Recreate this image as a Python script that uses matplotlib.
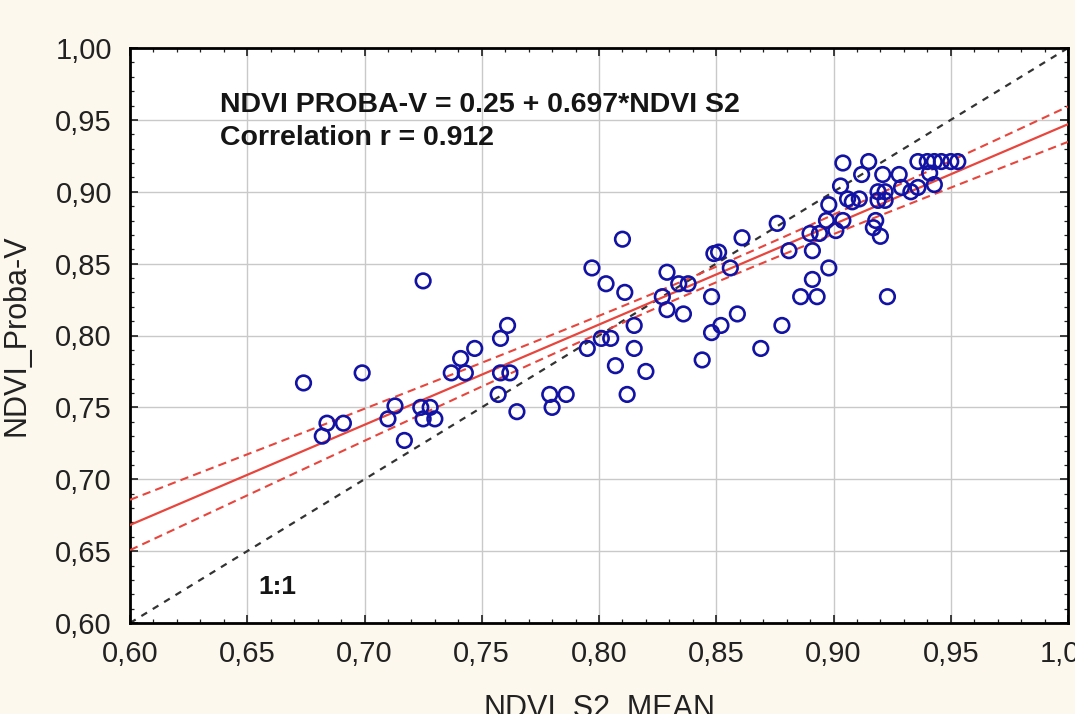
import numpy as np
import matplotlib
matplotlib.use('Agg')
import matplotlib.pyplot as plt
import matplotlib.ticker as mticker

# ----------------------------
# data
# ----------------------------
ndvi_s2 = [
    0.674, 0.682, 0.684, 0.691, 0.699, 0.710, 0.713, 0.717, 0.724, 0.728,
    0.725, 0.730, 0.725, 0.737, 0.743, 0.741, 0.747, 0.757, 0.758, 0.761,
    0.758, 0.762, 0.765, 0.779, 0.780, 0.786,
    0.795, 0.797, 0.801, 0.803, 0.805, 0.807, 0.810, 0.811, 0.812, 0.815,
    0.815, 0.820, 0.827, 0.829, 0.829, 0.834, 0.838, 0.836, 0.844, 0.848,
    0.848, 0.849, 0.851, 0.852, 0.856, 0.859, 0.861, 0.869, 0.876, 0.878,
    0.881, 0.886, 0.891, 0.891, 0.890, 0.894, 0.893, 0.898, 0.897, 0.901,
    0.904, 0.898, 0.903, 0.904, 0.906, 0.908, 0.911, 0.912, 0.915, 0.918,
    0.917, 0.920, 0.919, 0.922, 0.919, 0.922, 0.921, 0.923, 0.928, 0.929,
    0.933, 0.936, 0.936, 0.940, 0.943, 0.946, 0.950, 0.953, 0.941, 0.943,
]
ndvi_probav = [
    0.767, 0.730, 0.739, 0.739, 0.774, 0.742, 0.751, 0.727, 0.750, 0.750,
    0.742, 0.742, 0.838, 0.774, 0.774, 0.784, 0.791, 0.759, 0.798, 0.807,
    0.774, 0.774, 0.747, 0.759, 0.750, 0.759,
    0.791, 0.847, 0.798, 0.836, 0.798, 0.779, 0.867, 0.830, 0.759, 0.807,
    0.791, 0.775, 0.827, 0.844, 0.818, 0.836, 0.836, 0.815, 0.783, 0.827,
    0.802, 0.857, 0.858, 0.807, 0.847, 0.815, 0.868, 0.791, 0.878, 0.807,
    0.859, 0.827, 0.859, 0.839, 0.871, 0.871, 0.827, 0.847, 0.880, 0.873,
    0.880, 0.891, 0.904, 0.920, 0.895, 0.893, 0.895, 0.912, 0.921, 0.880,
    0.875, 0.869, 0.900, 0.900, 0.894, 0.894, 0.912, 0.827, 0.912, 0.903,
    0.900, 0.903, 0.921, 0.921, 0.921, 0.921, 0.921, 0.921, 0.913, 0.905,
]

fit_intercept = 0.25
fit_slope     = 0.697
corr_r        = 0.912

tick_values = [0.60, 0.65, 0.70, 0.75, 0.80, 0.85, 0.90, 0.95, 1.00]

x_label = 'NDVI_S2_MEAN'
y_label = 'NDVI_Proba-V'

# ----------------------------
# styling
# ----------------------------
plt.rcParams['font.family'] = ['Liberation Sans', 'DejaVu Sans']
bg_color     = '#fdf8ee'
point_color  = '#1212a4'
fit_color    = '#e8453c'
oneone_color = '#333333'
tick_fs      = 21

x = np.array(ndvi_s2)
y = np.array(ndvi_probav)

# regression line + 95% confidence band of the mean
xs = np.linspace(0.60, 1.00, 200)
ys = fit_intercept + fit_slope * xs
n = len(x)
resid = y - (fit_intercept + fit_slope * x)
s_err = np.sqrt(np.sum(resid ** 2) / (n - 2))
sxx = np.sum((x - x.mean()) ** 2)
half = 1.98 * s_err * np.sqrt(1.0 / n + (xs - x.mean()) ** 2 / sxx)

fig = plt.figure(figsize=(10.75, 7.14), dpi=100, facecolor=bg_color)
ax = fig.add_axes([130 / 1075, 1 - 623 / 714, 938 / 1075, 575 / 714])
ax.set_facecolor('white')

ax.plot([0.60, 1.00], [0.60, 1.00], color=oneone_color, lw=1.6,
        dashes=(3, 3), zorder=2)
ax.plot(xs, ys, color=fit_color, lw=1.6, zorder=3)
ax.plot(xs, ys + half, color=fit_color, lw=1.5, dashes=(4, 2.5), zorder=3)
ax.plot(xs, ys - half, color=fit_color, lw=1.5, dashes=(4, 2.5), zorder=3)

ax.scatter(x, y, s=110, facecolors='none', edgecolors=point_color,
           linewidths=1.9, zorder=4)

ax.set_xlim(0.60, 1.00)
ax.set_ylim(0.60, 1.00)
ax.set_xticks(tick_values)
ax.set_yticks(tick_values)
ax.xaxis.set_minor_locator(mticker.MultipleLocator(0.01))
ax.yaxis.set_minor_locator(mticker.MultipleLocator(0.01))
comma_fmt = mticker.FuncFormatter(lambda v, _: f"{v:.2f}".replace('.', ','))
ax.xaxis.set_major_formatter(comma_fmt)
ax.yaxis.set_major_formatter(comma_fmt)

ax.tick_params(which='both', direction='in', top=True, right=True,
               color='#202020')
ax.tick_params(which='major', length=6, width=1.2, labelsize=tick_fs,
               labelcolor='#222222')
ax.tick_params(axis='x', which='major', pad=12)
ax.tick_params(axis='y', which='major', pad=13)
ax.tick_params(which='minor', length=3, width=0.9)

ax.grid(True, which='major', color='#c9c9c9', lw=1.0, zorder=0)
ax.set_axisbelow(True)
for sp in ax.spines.values():
    sp.set_linewidth(2.0)
    sp.set_color('black')

# annotations
ax.text(0.6384, 0.9555, f'NDVI PROBA-V = {fit_intercept} + {fit_slope}*NDVI S2',
        fontsize=20.5, fontweight='bold', color='#151515',
        ha='left', va='baseline', zorder=5)
ax.text(0.6384, 0.9325, f'Correlation r = {corr_r}',
        fontsize=20.5, fontweight='bold', color='#151515',
        ha='left', va='baseline', zorder=5)
ax.text(0.6546, 0.625, '1:1', fontsize=19, fontweight='bold',
        color='#151515', ha='left', va='center', zorder=5)

# axis titles (x title runs off the bottom edge like the source)
fig.text(17 / 1075, 1 - 335.5 / 714, y_label, rotation=90,
         fontsize=22, color='#222222', ha='center', va='center')
fig.text(599 / 1075, 1 - 694 / 714, x_label,
         fontsize=22, color='#222222', ha='center', va='top')

fig.savefig('out.png', dpi=100, facecolor=bg_color)
